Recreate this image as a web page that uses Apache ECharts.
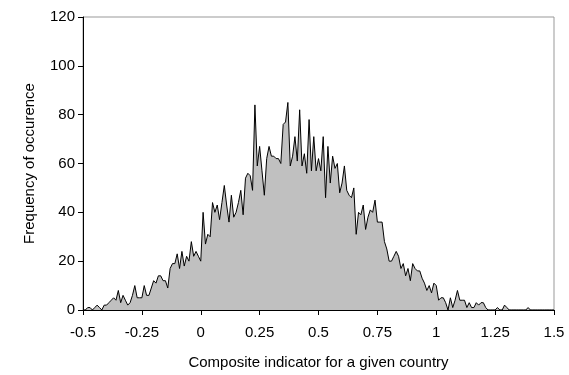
<!DOCTYPE html>
<html>
<head>
<meta charset="utf-8">
<script src="https://cdn.jsdelivr.net/npm/echarts@6/dist/echarts.min.js"></script>
<style>
  html, body { margin: 0; padding: 0; background: #fff; }
  #chart { width: 569px; height: 375px; }
</style>
</head>
<body>
<div id="chart"></div>
<script>
// histogram of the composite indicator, bins of 0.01 starting at -0.5
const binStart = -0.5;
const binWidth = 0.01;
const frequency = [
  0, 0, 1, 1, 0, 1, 2, 1, 0, 2,
  2, 3, 4, 5, 4, 8, 3, 6, 4, 2,
  3, 6, 10, 5, 5, 5, 10, 6, 6, 9,
  12, 11, 14, 14, 12, 12, 9, 17, 19, 19,
  23, 17, 24, 18, 22, 20, 28, 22, 24, 22,
  20, 40, 27, 31, 30, 44, 40, 43, 37, 44,
  51, 43, 36, 47, 38, 40, 44, 49, 39, 54,
  56, 55, 49, 84, 59, 67, 57, 47, 62, 67,
  63, 63, 62, 62, 60, 76, 77, 85, 59, 63,
  71, 61, 82, 59, 64, 56, 78, 57, 71, 57,
  62, 57, 71, 46, 67, 52, 63, 58, 60, 48,
  52, 59, 49, 47, 46, 50, 31, 40, 39, 43,
  33, 38, 41, 40, 45, 36, 36, 36, 28, 25,
  20, 20, 22, 24, 22, 17, 19, 14, 17, 12,
  19, 17, 16, 16, 13, 11, 8, 10, 7, 11,
  10, 4, 5, 5, 3, 0, 5, 1, 4, 8,
  4, 4, 4, 1, 3, 1, 1, 3, 2, 3,
  3, 1, 0, 0, 0, 0, 1, 0, 0, 2,
  1, 0, 0, 0, 0, 0, 0, 0, 0, 1,
  0, 0, 0, 0, 0, 0, 0, 0, 0, 0,
  0
];
const xTicks = [-0.5, -0.25, 0, 0.25, 0.5, 0.75, 1, 1.25, 1.5];
const yTicks = [0, 20, 40, 60, 80, 100, 120];

const FONT = "'Liberation Sans', Arial, sans-serif";
const FONT_SIZE = 15;

const points = frequency.map((v, i) => [+(binStart + i * binWidth).toFixed(2), v]);

const chart = echarts.init(document.getElementById("chart"));
chart.setOption({
  animation: false,
  grid: {
    left: 83, right: 15, top: 17, bottom: 62,
    show: true,
    borderColor: "#999",
    borderWidth: 1
  },
  xAxis: {
    type: "value",
    min: xTicks[0],
    max: xTicks[xTicks.length - 1],
    interval: 0.25,
    name: "Composite indicator for a given country",
    nameLocation: "middle",
    nameGap: 45,
    nameTextStyle: { fontFamily: FONT, fontSize: FONT_SIZE, color: "#000" },
    axisLine: { onZero: false, lineStyle: { color: "#000", width: 1 } },
    axisTick: { show: true, length: 5, lineStyle: { color: "#000" } },
    axisLabel: { fontFamily: FONT, fontSize: FONT_SIZE, color: "#000", margin: 15 },
    splitLine: { show: false }
  },
  yAxis: {
    type: "value",
    min: yTicks[0],
    max: yTicks[yTicks.length - 1],
    interval: 20,
    name: "Frequency of occurence",
    nameLocation: "middle",
    nameGap: 46,
    nameTextStyle: { fontFamily: FONT, fontSize: FONT_SIZE, color: "#000" },
    axisLine: { show: true, onZero: false, lineStyle: { color: "#000", width: 1 } },
    axisTick: { show: true, length: 5, lineStyle: { color: "#000" } },
    axisLabel: { fontFamily: FONT, fontSize: FONT_SIZE, color: "#000", margin: 8 },
    splitLine: { show: false }
  },
  series: [{
    type: "line",
    data: points,
    showSymbol: false,
    lineStyle: { color: "#000", width: 1 },
    areaStyle: { color: "#c0c0c0", opacity: 1 },
    z: 1
  }]
});
</script>
</body>
</html>
